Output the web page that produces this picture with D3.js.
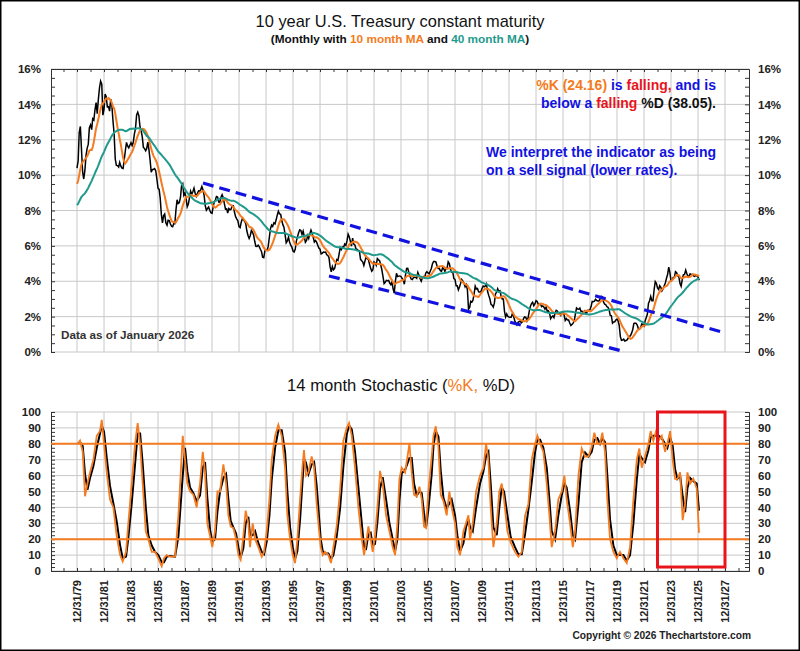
<!DOCTYPE html>
<html>
<head>
<meta charset="utf-8">
<script src="https://cdn.jsdelivr.net/npm/d3@7/dist/d3.min.js"></script>
<style>
body{margin:0;background:#fff;}
svg{display:block;font-family:Arial,"Liberation Sans",sans-serif;}
</style>
</head>
<body>
<div id="chart"></div>
<script>
// monthly 10 year yield (%), Jan..Dec per row; 1976-79 only feeds the moving averages
var yields1976_79 = [
    7.74,7.79,7.73,7.56,7.90,7.86,7.83,7.77,7.59,7.41,7.29,6.87,
    7.21,7.39,7.46,7.37,7.46,7.28,7.33,7.40,7.34,7.52,7.58,7.69,
    7.96,8.03,8.04,8.15,8.35,8.46,8.64,8.41,8.42,8.64,8.81,9.01,
    9.10,9.10,9.12,9.18,9.25,8.91,8.95,9.03,9.33,10.30,10.65,10.39
];
var yields1980s = [
    10.80,12.41,12.75,11.47,10.18,9.78,10.25,11.10,11.51,11.75,12.68,12.84,
    12.57,13.19,13.12,13.68,14.10,13.47,14.28,14.94,15.32,15.15,13.39,13.72,
    14.59,14.43,13.86,13.87,13.62,14.30,13.95,13.06,12.34,10.91,10.55,10.54,
    10.46,10.72,10.51,10.40,10.38,10.85,11.38,11.85,11.65,11.54,11.69,11.83,
    11.67,11.84,12.32,12.63,13.41,13.56,13.36,12.72,12.52,12.16,11.57,11.50,
    11.38,11.51,11.86,11.43,10.85,10.16,10.31,10.33,10.37,10.24,9.78,9.26,
    9.19,8.70,7.78,7.30,7.71,7.80,7.30,7.17,7.45,7.43,7.25,7.11,
    7.08,7.25,7.25,8.02,8.61,8.40,8.45,8.76,9.42,9.52,8.86,8.99,
    8.67,8.21,8.37,8.72,9.09,8.92,9.06,9.26,8.98,8.80,8.96,9.11,
    9.09,9.17,9.36,9.18,8.86,8.28,8.02,8.11,8.19,8.01,7.87,7.84
];
var yields1990s = [
    8.21,8.47,8.59,8.79,8.76,8.48,8.47,8.75,8.89,8.72,8.39,8.08,
    8.09,7.85,8.11,8.04,8.07,8.28,8.27,7.90,7.65,7.53,7.42,7.09,
    7.03,7.34,7.54,7.48,7.39,7.26,6.84,6.59,6.42,6.59,6.87,6.77,
    6.60,6.26,5.98,5.97,6.04,5.96,5.81,5.68,5.36,5.33,5.72,5.77,
    5.75,5.97,6.48,6.97,7.18,7.10,7.30,7.24,7.46,7.74,7.96,7.81,
    7.78,7.47,7.20,7.06,6.63,6.17,6.28,6.49,6.20,6.04,5.93,5.71,
    5.65,5.81,6.27,6.51,6.74,6.91,6.87,6.64,6.83,6.53,6.20,6.30,
    6.58,6.42,6.69,6.89,6.71,6.49,6.22,6.30,6.21,6.03,5.88,5.81,
    5.54,5.57,5.65,5.64,5.65,5.50,5.46,5.34,4.81,4.53,4.83,4.65,
    4.72,5.00,5.23,5.18,5.54,5.90,5.79,5.94,5.92,6.11,6.03,6.28
];
var yields2000s = [
    6.66,6.52,6.26,5.99,6.44,6.10,6.05,5.83,5.80,5.74,5.72,5.24,
    5.16,5.10,4.89,5.14,5.39,5.28,5.24,4.97,4.73,4.57,4.65,5.09,
    5.04,4.91,5.28,5.21,5.16,4.93,4.65,4.26,3.87,3.94,4.05,4.03,
    4.05,3.90,3.81,3.96,3.57,3.33,3.98,4.45,4.27,4.29,4.30,4.27,
    4.15,4.08,3.83,4.35,4.72,4.73,4.50,4.28,4.13,4.10,4.19,4.23,
    4.22,4.17,4.50,4.34,4.14,4.00,4.18,4.26,4.20,4.46,4.54,4.47,
    4.42,4.57,4.72,4.99,5.11,5.11,5.09,4.88,4.72,4.73,4.60,4.56,
    4.76,4.72,4.56,4.69,4.75,5.10,5.00,4.67,4.52,4.53,4.15,4.10,
    3.74,3.74,3.51,3.68,3.88,4.10,4.01,3.89,3.69,3.81,3.53,2.42,
    2.52,2.87,2.82,2.93,3.29,3.72,3.56,3.59,3.40,3.39,3.40,3.59
];
var yields2010s = [
    3.73,3.69,3.73,3.85,3.42,3.20,3.01,2.70,2.65,2.54,2.76,3.29,
    3.39,3.58,3.41,3.46,3.17,3.00,3.00,2.30,1.98,2.15,2.01,1.98,
    1.97,1.97,2.17,2.05,1.80,1.62,1.53,1.68,1.72,1.75,1.65,1.72,
    1.91,1.98,1.96,1.76,1.93,2.30,2.58,2.74,2.81,2.62,2.72,2.90,
    2.86,2.71,2.72,2.71,2.56,2.60,2.54,2.42,2.53,2.30,2.33,2.21,
    1.88,1.98,2.04,1.94,2.20,2.36,2.32,2.17,2.17,2.07,2.26,2.24,
    2.09,1.78,1.89,1.81,1.81,1.64,1.50,1.56,1.63,1.76,2.14,2.49,
    2.43,2.42,2.48,2.30,2.30,2.19,2.32,2.21,2.20,2.36,2.35,2.40,
    2.58,2.86,2.84,2.87,2.98,2.91,2.89,2.89,3.00,3.15,3.12,2.83,
    2.71,2.68,2.57,2.53,2.40,2.07,2.06,1.63,1.70,1.71,1.81,1.86
];
var yields2020s = [
    1.76,1.50,0.87,0.66,0.67,0.73,0.62,0.65,0.68,0.79,0.87,0.93,
    1.08,1.26,1.61,1.64,1.62,1.52,1.32,1.28,1.37,1.58,1.56,1.47,
    1.76,1.93,2.13,2.75,2.90,3.14,2.90,2.90,3.52,3.98,3.89,3.62,
    3.53,3.75,3.66,3.46,3.57,3.75,3.90,4.17,4.38,4.80,4.50,4.02,
    4.06,4.21,4.21,4.54,4.48,4.31,4.25,3.87,3.72,4.10,4.36,4.39,
    4.63,4.45,4.28,4.28,4.42,4.38,4.39,4.30,4.28,4.33,4.31,4.24,
    4.06
];

// 14 month stochastic %K (time in decimal years)
var stochYear = [
    1980.05,1980.22,1980.42,1980.59,1980.77,1980.96,1981.21,1981.46,1981.70,1981.83,
    1982.00,1982.20,1982.44,1982.69,1982.94,1983.19,1983.38,1983.63,1983.80,1984.05,
    1984.30,1984.49,1984.67,1984.86,1985.09,1985.28,1985.53,1985.78,1986.02,1986.27,
    1986.44,1986.64,1986.89,1987.26,1987.51,1987.83,1988.00,1988.17,1988.37,1988.62,
    1988.86,1989.11,1989.31,1989.48,1989.65,1989.85,1990.02,1990.22,1990.40,1990.59,
    1990.84,1991.04,1991.21,1991.38,1991.58,1991.78,1991.95,1992.12,1992.32,1992.49,
    1992.69,1992.81,1993.01,1993.19,1993.43,1993.68,1993.85,1994.05,1994.25,1994.42,
    1994.67,1994.91,1995.16,1995.41,1995.58,1995.78,1995.98,1996.15,1996.32,1996.52,
    1996.69,1996.81,1996.96,1997.14,1997.38,1997.56,1997.75,1997.93,1998.05,1998.20,
    1998.37,1998.62,1998.81,1998.99,1999.23,1999.48,1999.73,1999.98,2000.15,2000.35,
    2000.59,2000.84,2001.09,2001.26,2001.41,2001.58,2001.75,2001.90,2002.07,2002.25,
    2002.44,2002.64,2002.89,2003.14,2003.38,2003.56,2003.73,2003.88,2004.05,2004.30,
    2004.62,2004.79,2004.96,2005.16,2005.36,2005.53,2005.70,2005.85,2006.02,2006.27,
    2006.40,2006.57,2006.77,2006.94,2007.14,2007.38,2007.58,2007.75,2008.00,2008.17,
    2008.37,2008.62,2008.81,2008.99,2009.11,2009.31,2009.56,2009.85,2010.10,2010.30,
    2010.47,2010.64,2010.84,2011.09,2011.28,2011.46,2011.63,2011.88,2012.12,2012.44,
    2012.69,2012.94,2013.19,2013.43,2013.68,2013.93,2014.10,2014.30,2014.54,2014.79,
    2014.99,2015.16,2015.41,2015.65,2015.90,2016.10,2016.27,2016.52,2016.72,2016.89,
    2017.14,2017.38,2017.63,2017.88,2018.12,2018.32,2018.54,2018.74,2018.91,2019.11,
    2019.28,2019.48,2019.73,2019.98,2020.22,2020.47,2020.72,2020.96,2021.21,2021.46,
    2021.65,2021.83,2022.07,2022.32,2022.49,2022.69,2022.89,2023.09,2023.31,2023.56,
    2023.73,2023.93,2024.12,2024.30,2024.47,2024.67,2024.86,2025.04,2025.21,2025.41,
    2025.65,2025.90,2026.07
];
var stochK = [
    80,82,75,47,55,62,70,85,88,95,
    80,62,45,40,22,10,6,12,30,55,
    80,93,80,55,25,20,12,12,8,3,
    8,10,9,9,35,85,70,55,50,48,
    40,55,75,62,30,22,15,25,50,50,
    67,55,35,28,27,20,10,7,22,38,
    30,15,30,20,15,9,12,25,45,70,
    85,92,85,65,35,20,10,5,20,45,
    65,76,60,62,72,65,42,25,15,10,
    12,10,5,15,28,50,82,90,93,85,
    65,40,20,10,18,28,20,12,22,40,
    63,55,35,25,15,10,30,58,65,62,
    80,62,48,47,53,45,28,27,50,72,
    85,91,78,48,44,35,50,40,30,15,
    10,25,30,35,20,30,50,60,65,80,
    70,40,15,30,50,55,45,25,18,12,
    9,12,35,42,70,80,85,80,75,55,
    35,15,25,45,50,60,45,30,15,25,
    60,77,72,72,78,87,80,80,87,75,
    45,20,12,8,12,8,5,15,45,70,
    77,65,72,80,88,82,88,82,85,75,
    80,88,70,58,58,62,32,42,62,55,
    58,52,24
];

// year-end gridlines / tick labels
var gridYears = [1979,1981,1983,1985,1987,1989,1991,1993,1995,1997,1999,2001,
                 2003,2005,2007,2009,2011,2013,2015,2017,2019,2021,2023,2025,2027];
var rateTicks = [0,2,4,6,8,10,12,14,16];
var stochTicks = [0,10,20,30,40,50,60,70,80,90,100];
var stochBands = [20,80];

// trend channel drawn on the rate panel: [start month, value, end month, value]
var channelLines = [
    ["1989-04", 9.55, "2027-09", 1.13],
    ["1998-08", 4.30, "2020-05", 0.05]
];
// highlight box on the stochastic panel
var highlightBox = {from: 2022, to: 2027, lo: 2.5, hi: 100};

var W = 800, H = 651;
var plotL = 51, plotR = 749;
var topY0 = 69, topY1 = 352, botY0 = 412, botY1 = 571;

var ORANGE = "#f47b20", TEAL = "#1f9a8c", BLUE = "#1212e0", RED = "#e8141c";

var yields = [].concat(yields1976_79, yields1980s, yields1990s, yields2000s, yields2010s, yields2020s);
var months = yields.map(function(v, i){ return new Date(1976, i + 1, 0); });
var startIdx = 47; // Dec 1979, first month drawn

function movingAvg(vals, n){
    return vals.map(function(v, i){
        if (i < n - 1) return null;
        return d3.mean(vals.slice(i - n + 1, i + 1));
    });
}
var ma10 = movingAvg(yields, 10);
var ma40 = movingAvg(yields, 40);

// %D: short trailing average of the %K readings
var stochD = stochK.map(function(v, i){
    return d3.mean(stochK.slice(Math.max(0, i - 1), i + 1));
});

function decYear(y){
    var yr = Math.floor(y);
    var a = new Date(yr, 0, 1), b = new Date(yr + 1, 0, 1);
    return new Date(+a + (y - yr) * (b - a));
}
var stochDates = stochYear.map(decYear);

var x = d3.scaleTime()
    .domain([new Date(1979, 11, 31), new Date(2027, 11, 31)])
    .range([77, 725]);
var yTop = d3.scaleLinear().domain([0, 16]).range([topY1, topY0]);
var yBot = d3.scaleLinear().domain([0, 100]).range([botY1, botY0]);

function yearEnd(y){ return new Date(y, 11, 31); }
function monthDate(s){ var p = s.split("-"); return new Date(+p[0], +p[1], 0); }

var svg = d3.select("#chart").append("svg")
    .attr("width", W)
    .attr("height", H);

svg.append("rect")
    .attr("x", 0.75).attr("y", 0.75)
    .attr("width", W - 1.5).attr("height", H - 1.5)
    .attr("fill", "#fff").attr("stroke", "#000").attr("stroke-width", 1.5);

var defs = svg.append("defs");
defs.append("clipPath").attr("id", "clipTop").append("rect")
    .attr("x", plotL).attr("y", topY0).attr("width", plotR - plotL).attr("height", topY1 - topY0);
defs.append("clipPath").attr("id", "clipBot").append("rect")
    .attr("x", plotL).attr("y", botY0).attr("width", plotR - plotL).attr("height", botY1 - botY0);

//titles
svg.append("text")
    .attr("x", 400).attr("y", 27)
    .attr("text-anchor", "middle")
    .attr("font-size", 16.4).attr("fill", "#111")
    .text("10 year U.S. Treasury constant maturity");

var sub = svg.append("text")
    .attr("x", 400).attr("y", 43)
    .attr("text-anchor", "middle")
    .attr("font-size", 11.8).attr("font-weight", "bold").attr("fill", "#111");
sub.append("tspan").text("(Monthly with ");
sub.append("tspan").attr("fill", ORANGE).text("10 month MA");
sub.append("tspan").text(" and ");
sub.append("tspan").attr("fill", TEAL).text("40 month MA");
sub.append("tspan").text(")");

var st = svg.append("text")
    .attr("x", 401).attr("y", 391)
    .attr("text-anchor", "middle")
    .attr("font-size", 16.6).attr("fill", "#111");
st.append("tspan").text("14 month Stochastic (");
st.append("tspan").attr("fill", ORANGE).text("%K,");
st.append("tspan").text(" %D)");

/**
 * Draws gridlines, frame and value axes for one panel
 */
function drawPanel(yScale, ticks, fmt, y0, y1, minorStep, frameTop, frameBottom){
    var g = svg.append("g");

    g.selectAll(".vgrid").data(gridYears).enter().append("line")
        .attr("x1", function(d){ return x(yearEnd(d)); })
        .attr("x2", function(d){ return x(yearEnd(d)); })
        .attr("y1", y0).attr("y2", y1)
        .attr("stroke", "#c8c8c8").attr("stroke-width", 1);

    g.selectAll(".hgrid").data(ticks).enter().append("line")
        .attr("x1", plotL).attr("x2", plotR)
        .attr("y1", function(d){ return yScale(d); })
        .attr("y2", function(d){ return yScale(d); })
        .attr("stroke", "#c8c8c8").attr("stroke-width", 1);

    var minor = d3.range(yScale.domain()[0], yScale.domain()[1] + 0.001, minorStep);

    var left = g.append("g").attr("transform", "translate(" + plotL + ",0)");
    left.call(d3.axisLeft(yScale).tickValues(ticks).tickFormat(fmt).tickSize(0).tickPadding(10));
    left.append("g").call(d3.axisRight(yScale).tickValues(minor).tickFormat("").tickSize(4));

    var right = g.append("g").attr("transform", "translate(" + plotR + ",0)");
    right.call(d3.axisRight(yScale).tickValues(ticks).tickFormat(fmt).tickSize(0).tickPadding(9));
    right.append("g").call(d3.axisLeft(yScale).tickValues(minor).tickFormat("").tickSize(4));

    g.selectAll(".domain").attr("stroke", "#333");
    g.selectAll(".tick line").attr("stroke", "#333");
    g.selectAll(".tick text")
        .attr("font-family", "Arial, 'Liberation Sans', sans-serif")
        .attr("font-size", 11.5).attr("font-weight", "bold").attr("fill", "#222");

    var yearTicks = d3.range(1978, 2030).map(yearEnd);
    if (frameTop){
        var t = g.append("g").attr("transform", "translate(0," + y0 + ")");
        t.call(d3.axisBottom(x).tickValues(yearTicks).tickFormat("").tickSize(3).tickSizeOuter(0));
        t.select(".domain").attr("d", "M" + plotL + ",0.5H" + plotR);
        t.selectAll("path, line").attr("stroke", "#333");
        t.selectAll(".tick").filter(function(d){ return x(d) < plotL || x(d) > plotR; }).remove();
    }
    if (frameBottom){
        var b = g.append("g").attr("transform", "translate(0," + y1 + ")");
        b.call(d3.axisTop(x).tickValues(yearTicks).tickFormat("").tickSize(3).tickSizeOuter(0));
        b.select(".domain").attr("d", "M" + plotL + ",0.5H" + plotR);
        b.selectAll("path, line").attr("stroke", "#333");
        b.selectAll(".tick").filter(function(d){ return x(d) < plotL || x(d) > plotR; }).remove();
    }
    return g;
}

drawPanel(yTop, rateTicks, function(d){ return d + "%"; }, topY0, topY1, 0.5, true, false);
drawPanel(yBot, stochTicks, function(d){ return d; }, botY0, botY1, 2.5, false, true);

// date labels under the stochastic panel
var fmtDate = d3.timeFormat("%m/%d/%y");
svg.append("g").selectAll("text").data(gridYears).enter().append("text")
    .attr("transform", function(d){ return "translate(" + x(yearEnd(d)) + ",580) rotate(-90)"; })
    .attr("dy", "0.35em")
    .attr("text-anchor", "end")
    .attr("font-size", 11).attr("font-weight", "bold").attr("fill", "#222")
    .text(function(d){ return fmtDate(yearEnd(d)); });

var idx = d3.range(startIdx, yields.length);

function seriesLine(vals, yScale){
    return d3.line()
        .defined(function(i){ return vals[i] != null; })
        .x(function(i){ return x(months[i]); })
        .y(function(i){ return yScale(vals[i]); });
}

// rate panel
var ratePanel = svg.append("g").attr("clip-path", "url(#clipTop)");

ratePanel.append("path").datum(idx)
    .attr("d", seriesLine(yields, yTop))
    .attr("fill", "none").attr("stroke", "#000").attr("stroke-width", 1.5);
ratePanel.append("path").datum(idx)
    .attr("d", seriesLine(ma10, yTop))
    .attr("fill", "none").attr("stroke", ORANGE).attr("stroke-width", 2);
ratePanel.append("path").datum(idx)
    .attr("d", seriesLine(ma40, yTop))
    .attr("fill", "none").attr("stroke", TEAL).attr("stroke-width", 2);

ratePanel.selectAll(".channel").data(channelLines).enter().append("line")
    .attr("x1", function(d){ return x(monthDate(d[0])); })
    .attr("y1", function(d){ return yTop(d[1]); })
    .attr("x2", function(d){ return x(monthDate(d[2])); })
    .attr("y2", function(d){ return yTop(d[3]); })
    .attr("stroke", BLUE).attr("stroke-width", 3.2)
    .attr("stroke-dasharray", "11,6");

// annotations
var a1 = svg.append("text")
    .attr("x", 716).attr("y", 90)
    .attr("text-anchor", "end")
    .attr("font-size", 14).attr("font-weight", "bold").attr("fill", BLUE);
a1.append("tspan").attr("fill", ORANGE).text("%K (24.16)");
a1.append("tspan").text(" is ");
a1.append("tspan").attr("fill", RED).text("falling,");
a1.append("tspan").text(" and is");

var a2 = svg.append("text")
    .attr("x", 716).attr("y", 108)
    .attr("text-anchor", "end")
    .attr("font-size", 14).attr("font-weight", "bold").attr("fill", BLUE);
a2.append("tspan").text("below a ");
a2.append("tspan").attr("fill", RED).text("falling");
a2.append("tspan").attr("fill", "#111").text(" %D (38.05).");

svg.selectAll(".signal").data(["We interpret the indicator as being", "on a sell signal (lower rates)."])
    .enter().append("text")
    .attr("x", 486)
    .attr("y", function(d, i){ return 157 + i * 18; })
    .attr("font-size", 14).attr("font-weight", "bold").attr("fill", BLUE)
    .text(function(d){ return d; });

svg.append("text")
    .attr("x", 61).attr("y", 339)
    .attr("font-size", 11.7).attr("font-weight", "bold").attr("fill", "#333")
    .text("Data as of January 2026");

// stochastic panel
var stochPanel = svg.append("g").attr("clip-path", "url(#clipBot)");

var stochLine = function(vals){
    return d3.line()
        .x(function(d, i){ return x(stochDates[i]); })
        .y(function(d){ return yBot(d); })(vals);
};

stochPanel.append("path")
    .attr("d", stochLine(stochD))
    .attr("fill", "none").attr("stroke", "#000").attr("stroke-width", 2);
stochPanel.append("path")
    .attr("d", stochLine(stochK))
    .attr("fill", "none").attr("stroke", ORANGE).attr("stroke-width", 1.8);

svg.selectAll(".band").data(stochBands).enter().append("line")
    .attr("x1", plotL).attr("x2", plotR)
    .attr("y1", function(d){ return yBot(d); })
    .attr("y2", function(d){ return yBot(d); })
    .attr("stroke", ORANGE).attr("stroke-width", 2);

svg.append("rect")
    .attr("x", x(yearEnd(highlightBox.from)))
    .attr("y", yBot(highlightBox.hi))
    .attr("width", x(yearEnd(highlightBox.to)) - x(yearEnd(highlightBox.from)))
    .attr("height", yBot(highlightBox.lo) - yBot(highlightBox.hi))
    .attr("fill", "none").attr("stroke", RED).attr("stroke-width", 3);

svg.append("text")
    .attr("x", 751).attr("y", 639)
    .attr("text-anchor", "end")
    .attr("font-size", 10.2).attr("font-weight", "bold").attr("fill", "#222")
    .text("Copyright \u00a9 2026 Thechartstore.com");
</script>
</body>
</html>
